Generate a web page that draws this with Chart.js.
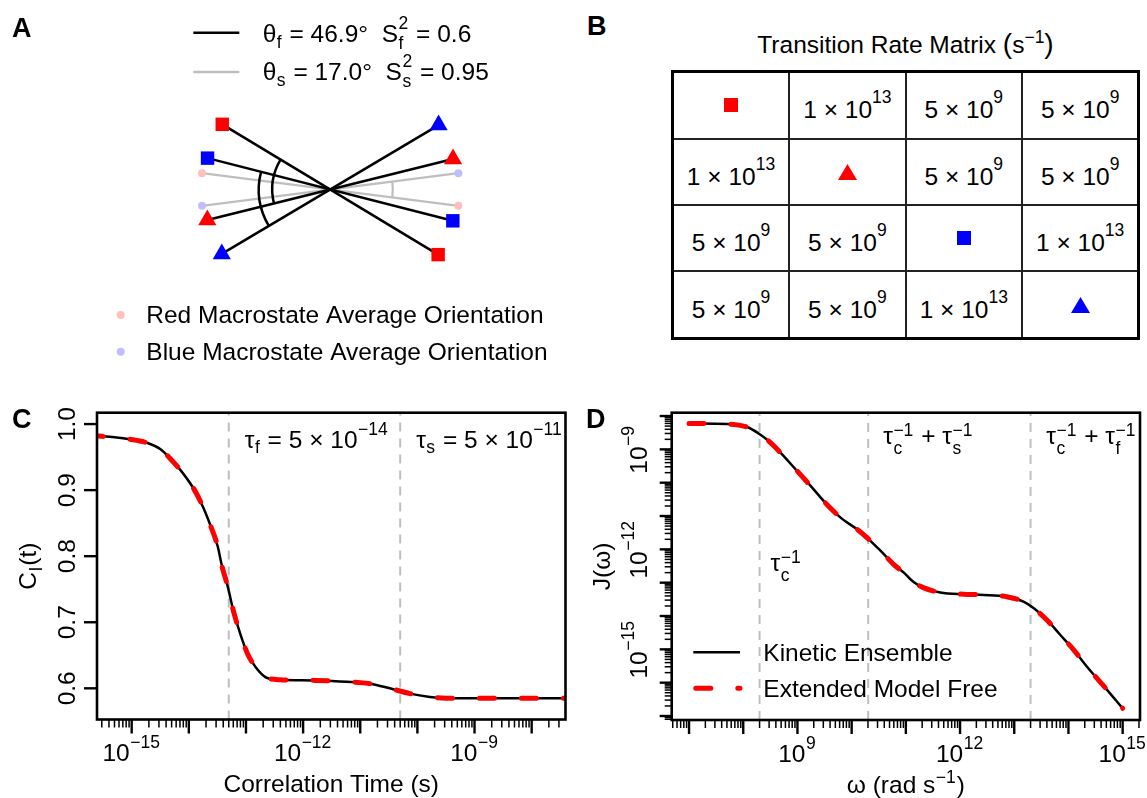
<!DOCTYPE html>
<html>
<head>
<meta charset="utf-8">
<title>Kinetic ensemble vs extended model free</title>
<script src="https://cdn.jsdelivr.net/npm/chart.js@4.4.1/dist/chart.umd.min.js"></script>
<style>
  html, body { margin: 0; padding: 0; background: #fff; }
  body { position: relative; width: 1147px; height: 798px; overflow: hidden;
         font-family: 'Liberation Sans', Arial, Helvetica, sans-serif; color: #000; }
  canvas { position: absolute; }
  .letter { position: absolute; font-weight: bold; font-size: 27px; line-height: 27px; }
  #btitle { position: absolute; left: 672px; width: 467px; top: 33px; text-align: center;
            font-size: 24.5px; line-height: 24px; white-space: nowrap; }
  #btitle span { line-height: 0; }
  #btitle .paren { font-size: 28px; }
  .sup { position: relative; font-size: 17.5px; line-height: 0; }
  #rates { position: absolute; left: 670.8px; top: 70.2px; display: grid;
           grid-template-columns: repeat(4, 114.4px); grid-template-rows: repeat(4, 64.4px);
           gap: 2px; background: #222; border: 3px solid #000; }
  #rates div { background: #fff; display: flex; align-items: center; justify-content: center;
               font-size: 24.5px; white-space: nowrap; }
  #rates div.num { padding-top: 10px; box-sizing: border-box; }
</style>
</head>
<body>
<canvas id="chartA" width="580" height="385" style="left:0;top:0"></canvas>
<div class="letter" style="left:587px;top:13px">B</div>
<div id="btitle">Transition Rate Matrix <span class="paren">(</span>s<span class="sup" style="top:-10px">−1</span><span class="paren">)</span></div>
<div id="rates"></div>
<canvas id="chartC" width="575" height="408" style="left:0;top:390px"></canvas>
<canvas id="chartD" width="572" height="408" style="left:575px;top:390px"></canvas>
<script>
const FONT = "'Liberation Sans', Arial, Helvetica, sans-serif";
const BASE = 24.5;
const SCRIPT = 17.5;

// panel A: bond vector orientations (angle of right-hand end, degrees)
const stateShapes = ['rect', 'triangle', 'rect', 'triangle'];
const stateColors = ['#ff0000', '#ff0000', '#0000ff', '#0000ff'];
const stateAngles = [-31.6, 14.2, -14.6, 31.2];
const stateLength = 1.0;
const macroNames = ['Red Macrostate Average Orientation', 'Blue Macrostate Average Orientation'];
const macroColors = ['#ffbfbf', '#bfbfff'];
const macroAngles = [-7.4, 7.4];
const macroLength = 1.02;
const thetaF = 46.9, thetaS = 17.0, s2F = 0.6, s2S = 0.95;

// panel B: transition rates (s^-1), null on the diagonal
const rateMatrix = [
  [null, 1e13, 5e9, 5e9],
  [1e13, null, 5e9, 5e9],
  [5e9, 5e9, null, 1e13],
  [5e9, 5e9, 1e13, null]
];

// panel C: internal correlation function
const corrTime = [2.4e-16, 5.0e-16, 9.3e-16, 1.95e-15, 3.2e-15, 4.7e-15, 7.5e-15, 1.26e-14,
  1.78e-14, 2.5e-14, 3.2e-14, 3.8e-14, 4.8e-14, 6.0e-14, 7.9e-14, 1.07e-13, 1.48e-13, 2.3e-13,
  4.0e-13, 1.6e-12, 5.8e-12, 1.5e-11, 3.3e-11, 7.4e-11, 1.66e-10, 3.2e-10, 3.2e-9, 4.0e-8];
const corrKinetic = [0.982, 0.980, 0.977, 0.971, 0.962, 0.948, 0.928, 0.900, 0.874, 0.842,
  0.815, 0.785, 0.754, 0.718, 0.683, 0.652, 0.632, 0.616, 0.613, 0.612, 0.610, 0.607, 0.600,
  0.592, 0.587, 0.585, 0.585, 0.585];
const corrModelFree = [0.982, 0.980, 0.977, 0.971, 0.962, 0.948, 0.928, 0.900, 0.874, 0.842,
  0.815, 0.785, 0.754, 0.718, 0.683, 0.652, 0.632, 0.616, 0.613, 0.612, 0.610, 0.607, 0.600,
  0.592, 0.587, 0.585, 0.585, 0.585];
const tauF = 5e-14, tauS = 5e-11;
const cYTicks = [0.6, 0.7, 0.8, 0.9, 1.0];
const cXLabelTicks = [1e-15, 1e-12, 1e-9];

// panel D: spectral density
const omega = [1e7, 5.1e7, 1.2e8, 1.92e8, 2.8e8, 5.0e8, 9.5e8, 1.8e9, 3.6e9, 6.5e9, 1.31e10,
  2.0e10, 3.4e10, 6.0e10, 9.5e10, 1.37e11, 2.1e11, 4.3e11, 1.15e12, 2.7e12, 7.2e12, 1.48e13,
  2.3e13, 4.0e13, 7.1e13, 1.26e14, 2.2e14, 5.2e14, 1.0e15];
const specKinetic = [6.0e-9, 5.75e-9, 4.6e-9, 3.0e-9, 1.9e-9, 7.6e-10, 2.4e-10, 7.6e-11, 2.1e-11,
  8.5e-12, 3.8e-12, 2.1e-12, 9.1e-13, 3.5e-13, 1.9e-13, 1.07e-13, 7.1e-14, 5.1e-14, 4.5e-14,
  4.3e-14, 3.8e-14, 2.7e-14, 1.7e-14, 7.6e-15, 2.7e-15, 9.5e-16, 3.0e-16, 6.0e-17, 1.7e-17];
const specModelFree = [6.0e-9, 5.75e-9, 4.6e-9, 3.0e-9, 1.9e-9, 7.6e-10, 2.4e-10, 7.6e-11, 2.1e-11,
  8.5e-12, 3.8e-12, 2.1e-12, 9.1e-13, 3.5e-13, 1.9e-13, 1.07e-13, 7.1e-14, 5.1e-14, 4.5e-14,
  4.3e-14, 3.8e-14, 2.7e-14, 1.7e-14, 7.6e-15, 2.7e-15, 9.5e-16, 3.0e-16, 6.0e-17, 1.7e-17];
const tauC = 5e-9;
const dXLabelTicks = [1e9, 1e12, 1e15];
const dYLabelTicks = [1e-9, 1e-12, 1e-15];

// axis ranges (log10 exponents where log)
const cXRange = [-15.607, -7.408], cYRange = [0.5528, 1.0172];
const dXRange = [6.68, 15.32], dYRange = [-17.12, -7.90];

// ---------- helpers ----------
function drawRich(ctx, parts, x, y, align) {
  let total = 0;
  const m = parts.map(p => {
    ctx.font = BASE + 'px ' + FONT;
    const bw = p.t ? ctx.measureText(p.t).width : 0;
    ctx.font = SCRIPT + 'px ' + FONT;
    const sw = Math.max(p.sup ? ctx.measureText(p.sup).width : 0, p.sub ? ctx.measureText(p.sub).width : 0);
    total += bw + (sw ? sw + 1.5 : 0);
    return { bw, sw };
  });
  let cx = align === 'center' ? x - total / 2 : (align === 'right' ? x - total : x);
  ctx.save();
  ctx.textAlign = 'left';
  ctx.textBaseline = 'alphabetic';
  ctx.fillStyle = '#000';
  parts.forEach((p, i) => {
    if (p.t) { ctx.font = BASE + 'px ' + FONT; ctx.fillText(p.t, cx, y); }
    cx += m[i].bw;
    if (m[i].sw) {
      cx += 0.5;
      ctx.font = SCRIPT + 'px ' + FONT;
      if (p.sup) ctx.fillText(p.sup, cx, y - (p.up !== undefined ? p.up : 13));
      if (p.sub) ctx.fillText(p.sub, cx, y + (p.down !== undefined ? p.down : 6));
      cx += m[i].sw + 1;
    }
  });
  ctx.restore();
}

function expText(e) { return (e < 0 ? '−' : '') + Math.abs(e); }
function sci(v) {
  const e = Math.floor(Math.log10(v) + 1e-9);
  return { m: Math.round(v / Math.pow(10, e)), e };
}
function powParts(v) { return [{ t: '10', sup: expText(Math.round(Math.log10(v))) }]; }

function logTickList(lo, hi) {
  const list = [];
  for (let e = Math.floor(lo); e <= Math.ceil(hi); e++) {
    for (let k = 1; k < 10; k++) {
      const lv = e + Math.log10(k);
      if (lv >= lo && lv <= hi) list.push({ v: k * Math.pow(10, e), major: k === 1 });
    }
  }
  return list;
}

function line(ctx, x0, y0, x1, y1) {
  ctx.beginPath(); ctx.moveTo(x0, y0); ctx.lineTo(x1, y1); ctx.stroke();
}

function rAxes(spec) {
  return {
    id: 'rAxes',
    afterDatasetsDraw(chart) {
      const { ctx, chartArea: a } = chart;
      const xs = chart.scales.x, ys = chart.scales.y;
      ctx.save();
      ctx.strokeStyle = '#000';
      ctx.setLineDash([]);
      spec.xTicks.forEach(t => {
        const px = xs.getPixelForValue(t.v);
        ctx.lineWidth = t.major ? 2.4 : 1.5;
        line(ctx, px, a.bottom, px, a.bottom + (t.major ? 14 : 8));
      });
      spec.yTicks.forEach(t => {
        const py = ys.getPixelForValue(t.v);
        ctx.lineWidth = t.major ? 2.4 : 1.5;
        line(ctx, a.left, py, a.left - (t.major ? spec.yMajorLen : 7), py);
      });
      ctx.lineWidth = 2.6;
      ctx.strokeRect(a.left, a.top, a.right - a.left, a.bottom - a.top);

      spec.xLabels.forEach(l => drawRich(ctx, l.parts, xs.getPixelForValue(l.v), a.bottom + 41.5, 'center'));
      spec.yLabels.forEach(l => {
        ctx.save();
        ctx.translate(a.left - spec.yLabelGap, ys.getPixelForValue(l.v));
        ctx.rotate(-Math.PI / 2);
        drawRich(ctx, l.parts, 0, 0, 'center');
        ctx.restore();
      });
      drawRich(ctx, spec.xTitle, (a.left + a.right) / 2, a.bottom + 72.5, 'center');
      ctx.save();
      ctx.translate(a.left - 61.5, (a.top + a.bottom) / 2);
      ctx.rotate(-Math.PI / 2);
      drawRich(ctx, spec.yTitle, 0, 0, 'center');
      ctx.restore();

      ctx.font = 'bold 27px ' + FONT;
      ctx.fillStyle = '#000';
      ctx.textAlign = 'left';
      ctx.fillText(spec.letter, spec.letterX, 37.5);
      if (spec.extra) spec.extra(ctx, a, xs, ys);
      ctx.restore();
    }
  };
}

function vline(v, lo, hi) {
  return {
    data: [{ x: v, y: lo }, { x: v, y: hi }], showLine: true, pointRadius: 0,
    borderColor: '#bebebe', borderWidth: 2, borderDash: [9, 7], order: 2
  };
}

const baseOptions = {
  responsive: false, animation: false, events: [], devicePixelRatio: 1,
  plugins: { legend: { display: false }, tooltip: { enabled: false } }
};

// ---------- panel A ----------
const pxPerUnit = 131.5, centerA = [331.7, 189.3];
const canvasA = document.getElementById('chartA');

function bond(angle, len) {
  const r = angle * Math.PI / 180;
  return [{ x: -len * Math.cos(r), y: -len * Math.sin(r) }, { x: len * Math.cos(r), y: len * Math.sin(r) }];
}

const datasetsA = [];
stateAngles.forEach((ang, i) => datasetsA.push({
  data: bond(ang, stateLength), showLine: true, borderColor: '#000', borderWidth: 2.5,
  pointStyle: stateShapes[i], pointRadius: stateShapes[i] === 'rect' ? 9.5 : 10.5,
  pointBackgroundColor: stateColors[i], pointBorderWidth: 0, order: i, clip: false
}));
macroAngles.forEach((ang, i) => datasetsA.push({
  data: bond(ang, macroLength), showLine: true, borderColor: '#bebebe', borderWidth: 2.2,
  pointStyle: 'circle', pointRadius: 4, pointBackgroundColor: macroColors[i],
  pointBorderWidth: 0, order: 10 + i, clip: false
}));

// arcs: [angle1, angle2, radius, side, colour]
const arcsA = [
  [stateAngles[0], stateAngles[1], 0.457, 'left', '#000'],
  [stateAngles[2], stateAngles[3], 0.563, 'left', '#000'],
  [macroAngles[0], macroAngles[1], 0.494, 'right', '#bebebe']
];

const panelA = {
  id: 'panelA',
  afterDatasetsDraw(chart) {
    const ctx = chart.ctx, xs = chart.scales.x, ys = chart.scales.y;
    const cx = xs.getPixelForValue(0), cy = ys.getPixelForValue(0);
    ctx.save();
    arcsA.forEach(([a1, a2, r, side, col]) => {
      const rp = xs.getPixelForValue(r) - cx;
      let s1, s2;
      if (side === 'left') { s1 = -(180 + a1); s2 = -(180 + a2); s1 = (s1 + 720) % 360; s2 = (s2 + 720) % 360; }
      else { s1 = -a1; s2 = -a2; }
      const st = Math.min(s1, s2), en = Math.max(s1, s2);
      ctx.strokeStyle = col;
      ctx.lineWidth = col === '#000' ? 2.5 : 2.2;
      ctx.beginPath();
      ctx.arc(cx, cy, rp, st * Math.PI / 180, en * Math.PI / 180, false);
      ctx.stroke();
    });
    // legend lines
    ctx.lineWidth = 2.5;
    ctx.strokeStyle = '#000'; line(ctx, 193.3, 32.7, 239.3, 32.7);
    ctx.strokeStyle = '#bebebe'; line(ctx, 193.3, 72, 239.3, 72);
    drawRich(ctx, [{ t: 'θ', sub: 'f' }, { t: ' = ' + thetaF.toFixed(1) + '°  S', sup: '2', sub: 'f', down: 7 }, { t: ' = ' + s2F }], 262.7, 41.7, 'left');
    drawRich(ctx, [{ t: 'θ', sub: 's' }, { t: ' = ' + thetaS.toFixed(1) + '°  S', sup: '2', sub: 's', down: 7 }, { t: ' = ' + s2S }], 262.7, 80, 'left');
    // macrostate legend
    macroNames.forEach((name, i) => {
      const yy = i === 0 ? 315 : 351.7;
      ctx.fillStyle = macroColors[i];
      ctx.beginPath(); ctx.arc(120.7, yy, 4, 0, Math.PI * 2); ctx.fill();
      drawRich(ctx, [{ t: name }], 146.3, yy + 8.3, 'left');
    });
    ctx.font = 'bold 27px ' + FONT;
    ctx.fillStyle = '#000';
    ctx.fillText('A', 12, 37);
    ctx.restore();
  }
};

new Chart(canvasA, {
  type: 'scatter',
  data: { datasets: datasetsA },
  options: Object.assign({}, baseOptions, {
    layout: { padding: 0 },
    scales: {
      x: { type: 'linear', display: false, min: -centerA[0] / pxPerUnit, max: (canvasA.width - centerA[0]) / pxPerUnit },
      y: { type: 'linear', display: false, min: -(canvasA.height - centerA[1]) / pxPerUnit, max: centerA[1] / pxPerUnit }
    }
  }),
  plugins: [panelA]
});

// ---------- panel B ----------
function markerSvg(shape, color) {
  if (shape === 'rect') return '<svg width="14" height="14"><rect width="14" height="14" fill="' + color + '"/></svg>';
  return '<svg width="19" height="16"><polygon points="9.5,0 19,16 0,16" fill="' + color + '"/></svg>';
}
const ratesEl = document.getElementById('rates');
rateMatrix.forEach((row, i) => {
  row.forEach(v => {
    const cell = document.createElement('div');
    if (v === null) {
      cell.innerHTML = markerSvg(stateShapes[i], stateColors[i]);
    } else {
      const s = sci(v);
      cell.className = 'num';
      cell.innerHTML = s.m + ' × 10<span class="sup" style="top:-13px">' + s.e + '</span>';
    }
    ratesEl.appendChild(cell);
  });
});

// ---------- panel C ----------
const cX = [Math.pow(10, cXRange[0]), Math.pow(10, cXRange[1])];
new Chart(document.getElementById('chartC'), {
  type: 'scatter',
  data: {
    datasets: [
      {
        label: 'Extended Model Free', data: corrTime.map((t, i) => ({ x: t, y: corrModelFree[i] })),
        showLine: true, pointRadius: 0, borderColor: '#ff0000', borderWidth: 5,
        borderDash: [15, 27], borderDashOffset: 8, borderCapStyle: 'round', cubicInterpolationMode: 'monotone', order: 0
      },
      {
        label: 'Kinetic Ensemble', data: corrTime.map((t, i) => ({ x: t, y: corrKinetic[i] })),
        showLine: true, pointRadius: 0, borderColor: '#000', borderWidth: 2.5,
        cubicInterpolationMode: 'monotone', order: 1
      },
      vline(tauF, cYRange[0], cYRange[1]),
      vline(tauS, cYRange[0], cYRange[1])
    ]
  },
  options: Object.assign({}, baseOptions, {
    layout: { padding: { left: 97, top: 22.7, right: 9.5, bottom: 78.5 } },
    scales: {
      x: { type: 'logarithmic', display: false, min: cX[0], max: cX[1], bounds: 'data' },
      y: { type: 'linear', display: false, min: cYRange[0], max: cYRange[1], bounds: 'data' }
    }
  }),
  plugins: [rAxes({
    letter: 'C', letterX: 12,
    xTicks: logTickList(cXRange[0], cXRange[1]),
    yTicks: cYTicks.map(v => ({ v, major: true })), yMajorLen: 13,
    xLabels: cXLabelTicks.map(v => ({ v, parts: powParts(v) })),
    yLabels: cYTicks.map(v => ({ v, parts: [{ t: v.toFixed(1) }] })), yLabelGap: 22,
    xTitle: [{ t: 'Correlation Time (s)' }],
    yTitle: [{ t: 'C', sub: 'I', down: 6 }, { t: '(t)' }],
    extra(ctx, a, xs) {
      [[tauF, 'f'], [tauS, 's']].forEach(([tau, name]) => {
        const s = sci(tau);
        drawRich(ctx, [{ t: 'τ', sub: name, down: 5 }, { t: ' = ' + s.m + ' × 10', sup: expText(s.e) }],
          xs.getPixelForValue(tau) + 16, a.top + 35.6, 'left');
      });
    }
  })]
});

// ---------- panel D ----------
const dX = [Math.pow(10, dXRange[0]), Math.pow(10, dXRange[1])];
const dY = [Math.pow(10, dYRange[0]), Math.pow(10, dYRange[1])];
const dMarks = [1 / tauC, 1 / tauC + 1 / tauS, 1 / tauC + 1 / tauF];
new Chart(document.getElementById('chartD'), {
  type: 'scatter',
  data: {
    datasets: [
      {
        label: 'Extended Model Free', data: omega.map((w, i) => ({ x: w, y: specModelFree[i] })),
        showLine: true, pointRadius: 0, borderColor: '#ff0000', borderWidth: 5,
        borderDash: [15, 27], borderCapStyle: 'round', cubicInterpolationMode: 'monotone', order: 0
      },
      {
        label: 'Kinetic Ensemble', data: omega.map((w, i) => ({ x: w, y: specKinetic[i] })),
        showLine: true, pointRadius: 0, borderColor: '#000', borderWidth: 2.5,
        cubicInterpolationMode: 'monotone', order: 1
      }
    ].concat(dMarks.map(v => vline(v, dY[0], dY[1])))
  },
  options: Object.assign({}, baseOptions, {
    layout: { padding: { left: 96.7, top: 22.7, right: 7, bottom: 78 } },
    scales: {
      x: { type: 'logarithmic', display: false, min: dX[0], max: dX[1], bounds: 'data' },
      y: { type: 'logarithmic', display: false, min: dY[0], max: dY[1], bounds: 'data' }
    }
  }),
  plugins: [rAxes({
    letter: 'D', letterX: 11,
    xTicks: logTickList(dXRange[0], dXRange[1]),
    yTicks: logTickList(dYRange[0], dYRange[1]), yMajorLen: 12,
    xLabels: dXLabelTicks.map(v => ({ v, parts: powParts(v) })),
    yLabels: dYLabelTicks.map(v => ({ v, parts: powParts(v) })), yLabelGap: 25,
    xTitle: [{ t: 'ω (rad s', sup: '−1', up: 10 }, { t: ')' }],
    yTitle: [{ t: 'J(ω)' }],
    extra(ctx, a, xs) {
      const inv = n => ({ t: 'τ', sub: n, sup: '−1', up: 8, down: 10 });
      drawRich(ctx, [inv('c')], xs.getPixelForValue(dMarks[0]) + 11, a.top + 158.3, 'left');
      drawRich(ctx, [inv('c'), Object.assign(inv('s'), { t: ' + τ' })], xs.getPixelForValue(dMarks[1]) + 15, a.top + 30.8, 'left');
      drawRich(ctx, [inv('c'), Object.assign(inv('f'), { t: ' + τ' })], xs.getPixelForValue(dMarks[2]) + 15.7, a.top + 30.8, 'left');
      // legend
      const ly1 = a.top + 239.6, ly2 = a.top + 275.6;
      const lx0 = a.left + 24.1, lx1 = a.left + 68.3;
      ctx.save();
      ctx.strokeStyle = '#000'; ctx.lineWidth = 2.5;
      line(ctx, a.left + 21.6, ly1, lx1, ly1);
      ctx.strokeStyle = '#ff0000'; ctx.lineWidth = 5; ctx.lineCap = 'round'; ctx.setLineDash([15, 27]);
      line(ctx, lx0, ly2, lx1, ly2);
      ctx.restore();
      drawRich(ctx, [{ t: 'Kinetic Ensemble' }], a.left + 91.6, ly1 + 8.4, 'left');
      drawRich(ctx, [{ t: 'Extended Model Free' }], a.left + 91.6, ly2 + 8.4, 'left');
    }
  })]
});
</script>
</body>
</html>
